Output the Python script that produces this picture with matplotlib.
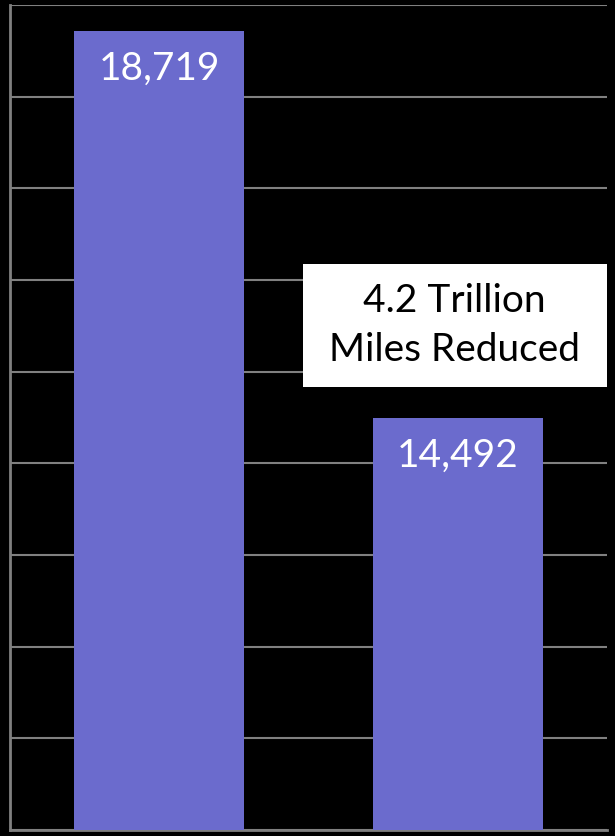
import numpy as np
import matplotlib.pyplot as plt
from matplotlib.patches import Rectangle

# values
categories = ['Before', 'After']
miles = [18719, 14492]
bar_labels = ['18,719', '14,492']
note = '4.2 Trillion\nMiles Reduced'

W, H = 615, 836
fig = plt.figure(figsize=(W/100, H/100), dpi=100, facecolor='black')
ax = fig.add_axes([10/W, 6/H, 597/W, 825/H], facecolor='black')

x = np.arange(len(categories))
ax.bar(x, miles, width=0.57, color='#6B6BCD', zorder=3)

ax.set_xlim(-0.5, 1.5)
ax.set_ylim(10000, 19000)
ax.set_yticks(np.arange(10000, 19001, 1000))
ax.yaxis.grid(True, color='#808080', linewidth=1.5, zorder=0)
ax.tick_params(left=False, bottom=False, labelleft=False, labelbottom=False)
for side in ['top', 'right']:
    ax.spines[side].set_visible(False)
for side in ['left', 'bottom']:
    ax.spines[side].set_color('#808080')
    ax.spines[side].set_linewidth(2)

font = ['Lato', 'DejaVu Sans']
for xi, v, lab in zip(x, miles, bar_labels):
    ax.annotate(lab, (xi, v), xytext=(0, -27), textcoords='offset points',
                ha='center', va='center', color='white', fontsize=28, family=font, zorder=4)

# white callout box between the bars
ax.add_patch(Rectangle((0.4905, 0.537), 0.5095, 0.149, transform=ax.transAxes,
                       facecolor='white', edgecolor='none', zorder=5))
ax.text(0.745, 0.612, note, transform=ax.transAxes, ha='center', va='center',
        color='black', fontsize=28, family=font, linespacing=1.45, zorder=6)

fig.savefig('out.png', dpi=100, facecolor='black')
